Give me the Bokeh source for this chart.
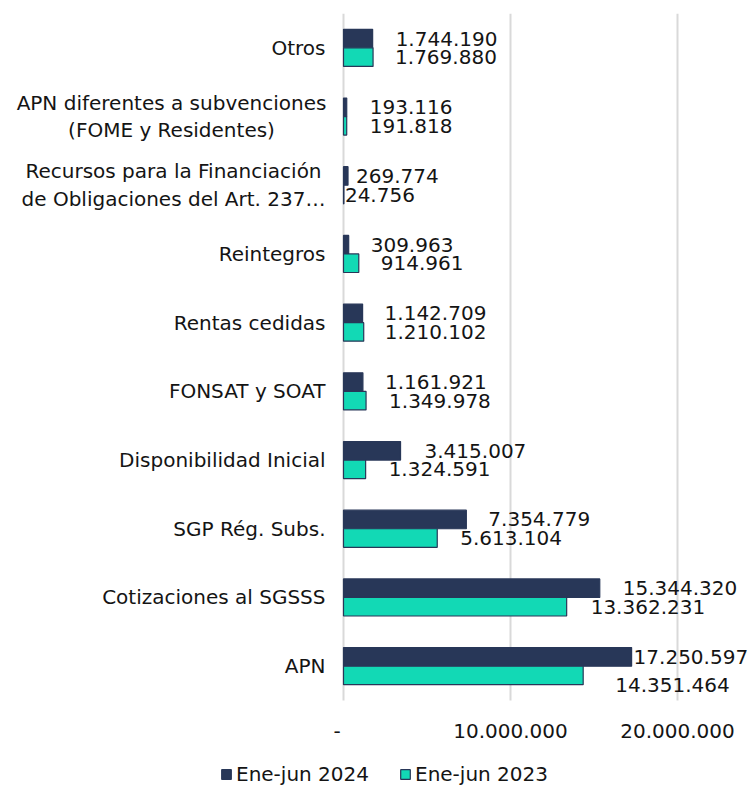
from bokeh.plotting import figure
from bokeh.models import ColumnDataSource, Legend, LegendItem
from bokeh.core.properties import value
from bokeh.embed import file_html
from bokeh.resources import INLINE

# ---- data (top to bottom) ----
categories = [
    "Otros",
    "APN diferentes a subvenciones\n(FOME y Residentes)",
    "Recursos para la Financiación\nde Obligaciones del Art. 237…",
    "Reintegros",
    "Rentas cedidas",
    "FONSAT y SOAT",
    "Disponibilidad Inicial",
    "SGP Rég. Subs.",
    "Cotizaciones al SGSSS",
    "APN",
]
v2024 = [1744190, 193116, 269774, 309963, 1142709, 1161921, 3415007, 7354779, 15344320, 17250597]
v2023 = [1769880, 191818, 24756, 914961, 1210102, 1349978, 1324591, 5613104, 13362231, 14351464]
series_names = ["Ene-jun 2024", "Ene-jun 2023"]
x_ticks = [0, 10000000, 20000000]
x_tick_labels = ["-\u00a0\u00a0", "10.000.000", "20.000.000"]

# ---- styling ----
FONT = "DejaVu Sans"
TXT = "#141414"
C24 = "#283758"
C23 = "#12d9b5"
BAR_H = 0.27
lab_dx24 = [23, 23, 8, 22, 22, 22, 24, 22, 23, 2]
lab_dx23 = [22, 23, 1, 22, 21, 23, 23, 23, 24, 32]
lab_dy23 = [0, 0, 0, 0, 0, 0, 0, 0, 0, 10]
cat_center_px = [None, 172, 170, None, None, None, None, None, None, None]

def fmt(v):
    return f"{v:,}".replace(",", ".")

n = len(categories)
ypos = [n - 0.5 - i for i in range(n)]
PX_PER_UNIT = 68.7          # vertical pixels per category band
BOTTOM_PX = 86              # room below the bars for tick labels and legend

src = ColumnDataSource(dict(
    y24=[y + BAR_H / 2 for y in ypos],
    y23=[y - BAR_H / 2 for y in ypos],
    v24=v2024, v23=v2023,
    t24=[fmt(v) for v in v2024], t23=[fmt(v) for v in v2023],
    dx24=lab_dx24, dx23=lab_dx23, dy23=lab_dy23,
))

p = figure(frame_width=744, frame_height=773,
           x_range=(-20060000, 24490000), y_range=(-BOTTOM_PX / PX_PER_UNIT, n),
           output_backend="svg", toolbar_location=None,
           min_border_left=8, min_border_top=13, min_border_right=0, min_border_bottom=0)
p.outline_line_color = None
p.background_fill_color = "white"
p.border_fill_color = "white"
p.xaxis.visible = False
p.yaxis.visible = False
p.xgrid.visible = False
p.ygrid.visible = False

# vertical gridlines at the x ticks, over the plotting band only
p.segment(x0=x_ticks, y0=[0] * len(x_ticks), x1=x_ticks, y1=[n] * len(x_ticks),
          line_color="#d9d9d9", line_width=2)

r24 = p.hbar(y="y24", right="v24", left=0, height=BAR_H, source=src,
             fill_color=C24, line_color=C24, line_width=1.2)
r23 = p.hbar(y="y23", right="v23", left=0, height=BAR_H, source=src,
             fill_color=C23, line_color=C24, line_width=1.2)

p.text(x="v24", y="y24", text="t24", x_offset="dx24", source=src,
       text_font=value(FONT), text_font_size="20px", text_color=TXT,
       text_baseline="middle", text_align="left")
p.text(x="v23", y="y23", text="t23", x_offset="dx23", y_offset="dy23", source=src,
       text_font=value(FONT), text_font_size="20px", text_color=TXT,
       text_baseline="middle", text_align="left")

# x tick labels
p.text(x=x_ticks, y=[0] * len(x_ticks), text=x_tick_labels, y_offset=30,
       text_font=value(FONT), text_font_size="20px", text_color=TXT,
       text_baseline="middle", text_align="center")

# category labels
single = dict(x=[], y=[], t=[])
multi = dict(x=[], y=[], t=[], dx=[])
for c, y, cp in zip(categories, ypos, cat_center_px):
    if cp is None:
        single["x"].append(0); single["y"].append(y); single["t"].append(c)
    else:
        multi["x"].append(0); multi["y"].append(y); multi["t"].append(c); multi["dx"].append(-cp)
p.text(x="x", y="y", text="t", source=ColumnDataSource(single), x_offset=-18,
       text_font=value(FONT), text_font_size="20px", text_color=TXT,
       text_baseline="middle", text_align="right")
p.text(x="x", y="y", text="t", source=ColumnDataSource(multi), x_offset="dx",
       text_font=value(FONT), text_font_size="20px", text_color=TXT,
       text_baseline="middle", text_align="center", text_line_height=1.15)

legend = Legend(items=[LegendItem(label=series_names[0], renderers=[r24]),
                       LegendItem(label=series_names[1], renderers=[r23])],
                orientation="horizontal", location=(212, 0),
                glyph_width=12, glyph_height=12, label_standoff=4, spacing=30,
                label_text_font=FONT, label_text_font_size="20px", label_text_color=TXT,
                border_line_color=None, background_fill_alpha=0, padding=0, margin=0)
p.add_layout(legend)

open("out.html", "w").write(file_html(p, INLINE))
